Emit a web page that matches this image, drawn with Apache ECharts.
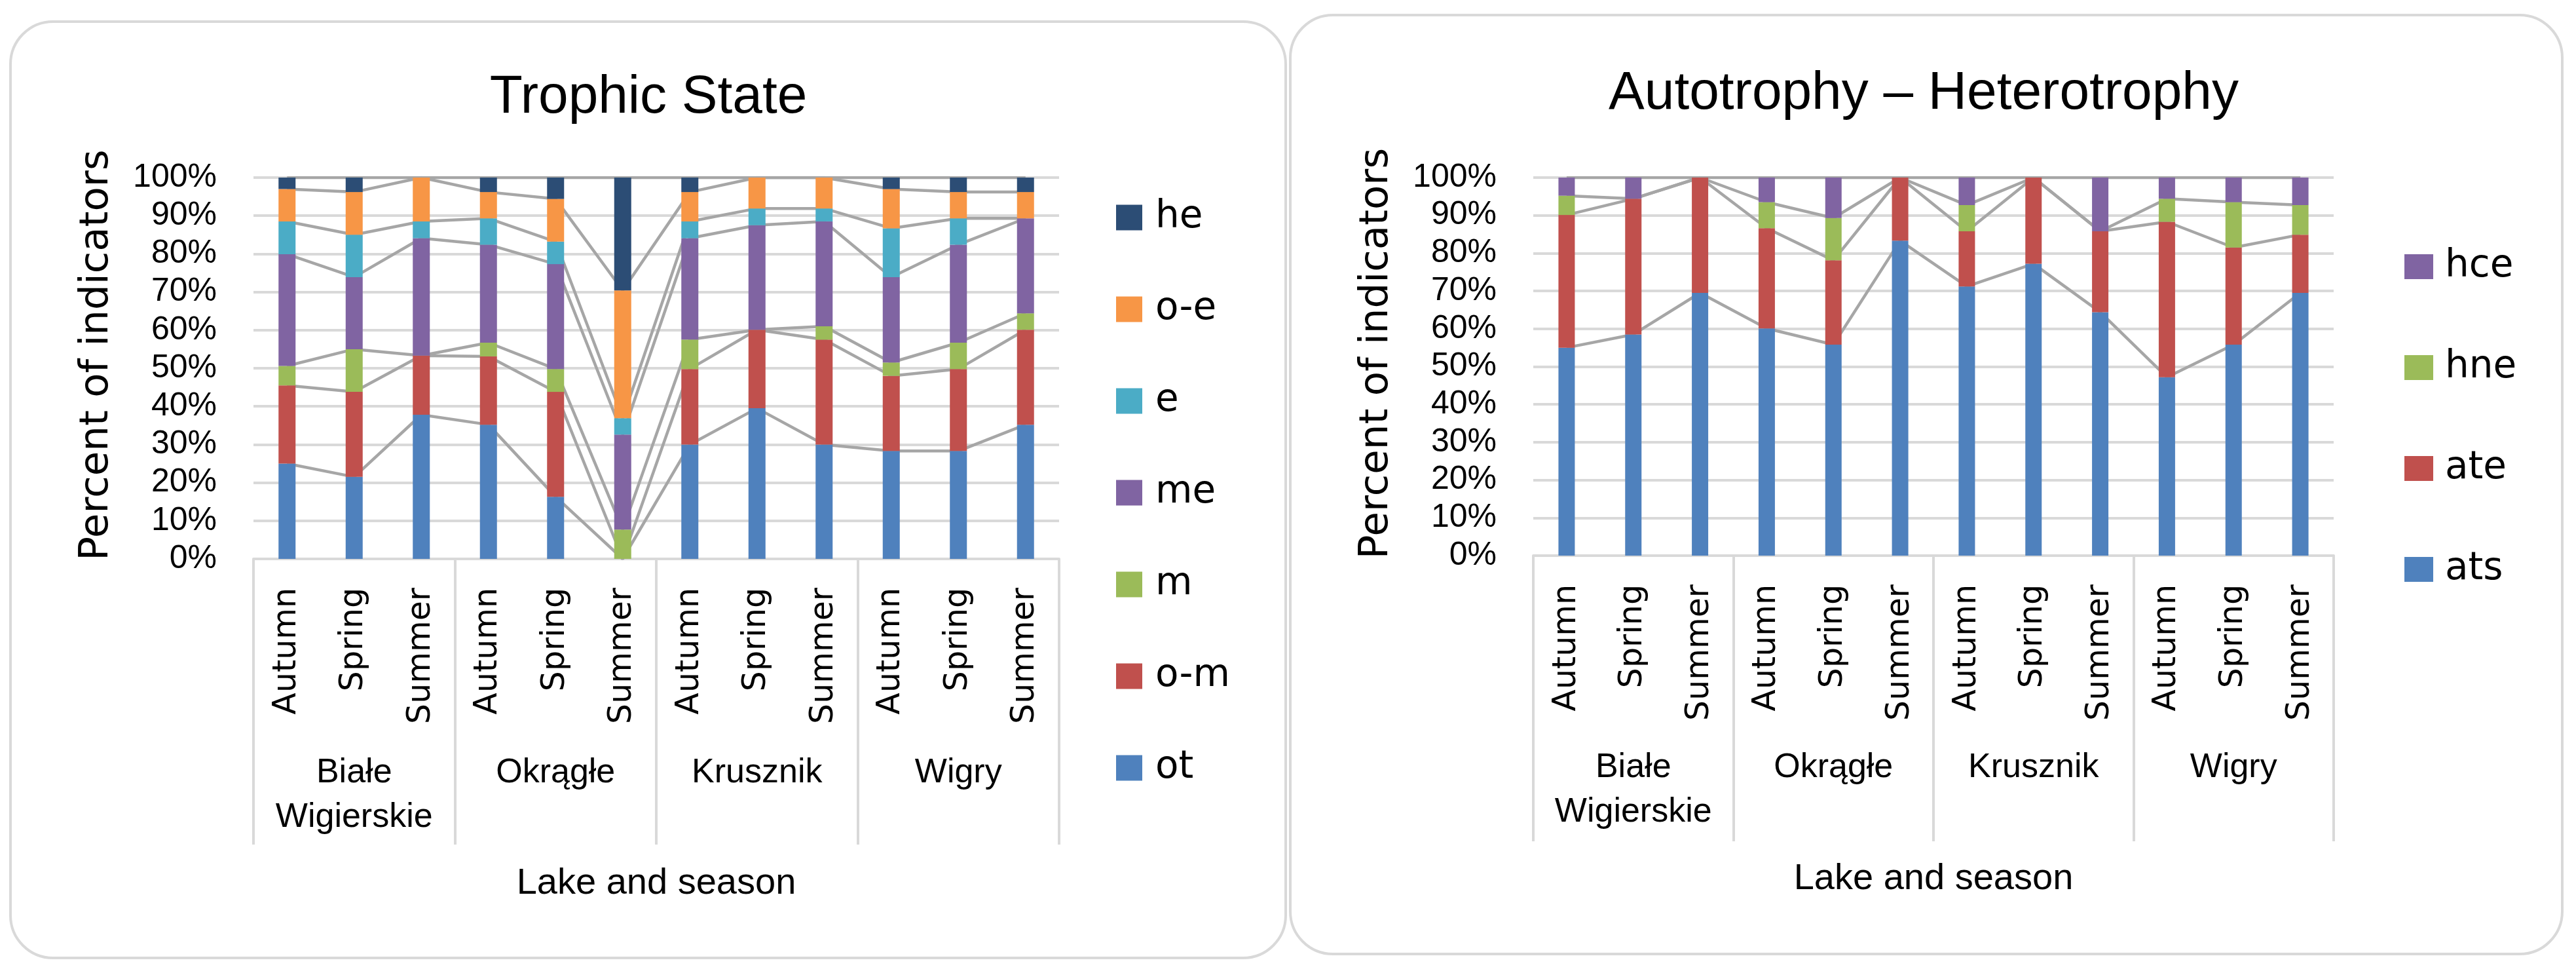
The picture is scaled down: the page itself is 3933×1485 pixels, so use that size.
<!DOCTYPE html>
<html>
<head>
<meta charset="utf-8">
<script src="https://cdn.jsdelivr.net/npm/echarts@6/dist/echarts.min.js"></script>
<style>
html,body{margin:0;padding:0;background:#fff;}
#c{width:3933px;height:1485px;}
</style>
</head>
<body>
<div id="c"></div>
<script>
// ---------- data ----------
const seasons = ['Autumn','Spring','Summer','Autumn','Spring','Summer','Autumn','Spring','Summer','Autumn','Spring','Summer'];
const lakes = ['Białe\nWigierskie','Okrągłe','Krusznik','Wigry'];

// Trophic State (percent of indicators)
const ot = [25.0, 21.5, 37.8, 35.2, 16.3, 0.0, 30.0, 39.5, 30.0, 28.3, 28.3, 35.2];
const om = [20.5, 22.3, 15.5, 17.9, 27.5, 0.0, 19.8, 20.6, 27.5, 19.7, 21.5, 24.9];
const m  = [ 5.1, 11.2,  0.0,  3.6,  6.0, 7.7,  7.7,  0.0,  3.5,  3.5,  6.9,  4.3];
const me = [29.3, 18.9, 30.8, 25.7, 27.5, 24.9, 26.6, 27.4, 27.5, 22.4, 25.7, 24.9];
const e  = [ 8.6, 11.1,  4.4,  6.9,  5.9, 4.3,  4.4,  4.4,  3.4, 12.8,  6.9,  0.0];
const oe = [ 8.5, 11.2, 11.5,  6.9, 11.2, 33.5, 7.7,  8.1,  8.1, 10.3,  6.9,  6.9];
const he = [ 3.0,  3.8,  0.0,  3.8,  5.6, 29.6, 3.8,  0.0,  0.0,  3.0,  3.8,  3.8];

// Autotrophy - Heterotrophy (percent of indicators)
const ats = [55.0, 58.5, 69.5, 60.1, 55.8, 83.3, 71.2, 77.2, 64.4, 47.2, 55.8, 69.5];
const ate = [35.1, 35.9, 30.5, 26.5, 22.3, 16.7, 14.6, 22.8, 21.4, 41.1, 25.7, 15.4];
const hne = [ 5.1,  0.0,  0.0,  6.9, 11.2,  0.0,  6.9,  0.0,  0.0,  6.1, 12.0,  7.8];
const hce = [ 4.8,  5.6,  0.0,  6.5, 10.7,  0.0,  7.3,  0.0, 14.2,  5.6,  6.5,  7.3];

const trophicSeries = [
  {name:'ot',  data:ot, color:'#4F81BD'},
  {name:'o-m', data:om, color:'#C0504D'},
  {name:'m',   data:m,  color:'#9BBB59'},
  {name:'me',  data:me, color:'#8064A2'},
  {name:'e',   data:e,  color:'#4BACC6'},
  {name:'o-e', data:oe, color:'#F79646'},
  {name:'he',  data:he, color:'#2C4D75'}
];
const autoSeries = [
  {name:'ats', data:ats, color:'#4F81BD'},
  {name:'ate', data:ate, color:'#C0504D'},
  {name:'hne', data:hne, color:'#9BBB59'},
  {name:'hce', data:hce, color:'#8064A2'}
];

// ---------- styles ----------
const SANS = 'Liberation Sans, Arial, sans-serif';
const WIDE = 'DejaVu Sans, Verdana, sans-serif';
const GRIDC = '#d9d9d9';
const SERIESLINE = '#a6a6a6';

function buildAxes(gi, gapName, lakeMargin) {
  return {
    x: [
      {
        type:'category', gridIndex:gi, data:seasons, position:'bottom',
        axisLine:{show:true, lineStyle:{color:GRIDC, width:4}},
        axisTick:{show:false},
        axisLabel:{interval:0, rotate:90, margin:44, fontFamily:WIDE, fontSize:49, color:'#000'},
        splitLine:{show:false}
      },
      {
        type:'category', gridIndex:gi, data:lakes, position:'bottom',
        axisLine:{show:false},
        axisTick:{show:true, interval:0, length:436, lineStyle:{color:GRIDC, width:4}},
        axisLabel:{interval:0, margin:lakeMargin, fontFamily:SANS, fontSize:52, lineHeight:68, color:'#000'},
        name:'Lake and season', nameLocation:'middle', nameGap:gapName,
        nameTextStyle:{fontFamily:SANS, fontSize:56, color:'#000'}
      }
    ],
    y: {
      type:'value', gridIndex:gi, min:0, max:100, interval:10,
      axisLine:{show:false}, axisTick:{show:false},
      axisLabel:{formatter:'{value}%', margin:56, fontFamily:SANS, fontSize:50, color:'#000'},
      splitLine:{show:true, lineStyle:{color:GRIDC, width:4}},
      name:'Percent of indicators', nameLocation:'middle', nameGap:208,
      nameTextStyle:{fontFamily:WIDE, fontSize:61, color:'#000', padding:[0,0,0,40]}
    }
  };
}

const A0 = buildAxes(0, 468, 293);
const A1 = buildAxes(1, 466, 290);

const series = [];
function addSeries(list, gi, stackName, barW) {
  list.forEach(s => {
    series.push({
      type:'line', name:'_line_'+stackName+'_'+s.name, xAxisIndex:gi*2, yAxisIndex:gi,
      stack:stackName+'_lines', data:s.data, symbol:'none', silent:true, z:1,
      lineStyle:{color:SERIESLINE, width:4.5}, itemStyle:{color:SERIESLINE}
    });
  });
  list.forEach(s => {
    series.push({
      type:'bar', name:s.name, xAxisIndex:gi*2, yAxisIndex:gi,
      stack:stackName, data:s.data, barWidth:barW, z:2,
      itemStyle:{color:s.color}
    });
  });
}
addSeries(trophicSeries, 0, 'trophic', 26);
addSeries(autoSeries, 1, 'auto', 25);

const option = {
  animation:false,
  backgroundColor:'#ffffff',
  title:[
    {text:'Trophic State', left:990, top:108, textAlign:'center', padding:0,
     textStyle:{fontFamily:SANS, fontSize:82, fontWeight:'normal', color:'#000'}},
    {text:'Autotrophy – Heterotrophy', left:2937, top:102, textAlign:'center', padding:0,
     textStyle:{fontFamily:SANS, fontSize:82, fontWeight:'normal', color:'#000'}}
  ],
  legend:[
    {data:['he','o-e','e','me','m','o-m','ot'], orient:'vertical', left:1704, top:303,
     itemWidth:40, itemHeight:39, itemGap:82, icon:'rect', padding:0, selectedMode:false,
     textStyle:{fontFamily:WIDE, fontSize:58, color:'#000', padding:[0,0,0,15]}},
    {data:['hce','hne','ate','ats'], orient:'vertical', left:3671, top:378,
     itemWidth:44, itemHeight:38, itemGap:96, icon:'rect', padding:0, selectedMode:false,
     textStyle:{fontFamily:WIDE, fontSize:58, color:'#000', padding:[0,0,0,13]}}
  ],
  grid:[
    {left:387, top:271, width:1230, height:582, containLabel:false},
    {left:2341, top:271, width:1222, height:577, containLabel:false}
  ],
  xAxis:[A0.x[0], A0.x[1], A1.x[0], A1.x[1]],
  yAxis:[A0.y, A1.y],
  series:series,
  graphic:[
    {type:'rect', shape:{x:16, y:33, width:1947, height:1429, r:65}, silent:true, z:-1,
     style:{fill:null, stroke:GRIDC, lineWidth:4}},
    {type:'rect', shape:{x:1970, y:23, width:1942, height:1433, r:65}, silent:true, z:-1,
     style:{fill:null, stroke:GRIDC, lineWidth:4}}
  ]
};

const chart = echarts.init(document.getElementById('c'), null, {renderer:'canvas'});
chart.setOption(option);
</script>
</body>
</html>
